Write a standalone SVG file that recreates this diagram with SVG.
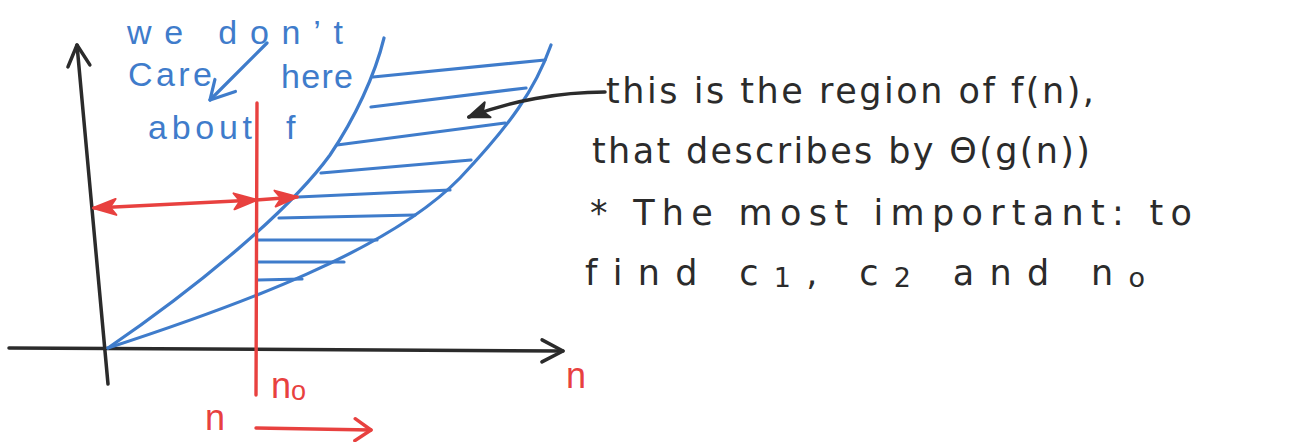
<svg xmlns="http://www.w3.org/2000/svg" width="1308" height="442" viewBox="0 0 1308 442">
<style>
.ink{fill:none;stroke-linecap:round;stroke-linejoin:round}
.blk{stroke:#2b2b2b;stroke-width:3.5}
.blu{stroke:#3f7ccb;stroke-width:3.2}
.red{stroke:#e8413f;stroke-width:3.4}
.hand{font-family:"Liberation Sans","DejaVu Sans",sans-serif;font-variant-ligatures:none}
.wide{font-family:"DejaVu Sans","Liberation Sans",sans-serif;font-variant-ligatures:none}
.tb{fill:#2b2b2b;font-size:35px}
.tu{fill:#3f7ccb;font-size:34px}
.tr{fill:#e8413f;font-size:36px}
.sub{font-size:27px}
</style>
<defs>
<marker id="vBlk" viewBox="-24 -14 28 28" refX="0" refY="0" markerWidth="28" markerHeight="28" markerUnits="userSpaceOnUse" orient="auto">
<path d="M-21,-11 L0,0 L-21,11" fill="none" stroke="#2b2b2b" stroke-width="3.5" stroke-linecap="round" stroke-linejoin="round"/>
</marker>
<marker id="vRed" viewBox="-24 -14 28 28" refX="0" refY="0" markerWidth="28" markerHeight="28" markerUnits="userSpaceOnUse" orient="auto">
<path d="M-16,-11 L0,0 L-16,11" fill="none" stroke="#e8413f" stroke-width="3.4" stroke-linecap="round" stroke-linejoin="round"/>
</marker>
<marker id="vBlu" viewBox="-30 -18 34 34" refX="0" refY="0" markerWidth="34" markerHeight="34" markerUnits="userSpaceOnUse" orient="auto">
<path d="M-18,11 L0,0 L-24,-12" fill="none" stroke="#3f7ccb" stroke-width="3.2" stroke-linecap="round" stroke-linejoin="round"/>
</marker>
<marker id="fRed" viewBox="-26 -12 30 24" refX="0" refY="0" markerWidth="30" markerHeight="24" markerUnits="userSpaceOnUse" orient="auto-start-reverse">
<path d="M1,0 L-22,-8 L-16,0 L-22,8 Z" fill="#e8413f" stroke="#e8413f" stroke-width="2" stroke-linejoin="round"/>
</marker>
<marker id="fBlk" viewBox="-26 -12 30 24" refX="0" refY="0" markerWidth="30" markerHeight="24" markerUnits="userSpaceOnUse" orient="auto">
<path d="M1,0 L-20,-8 L-15,0 L-20,8 Z" fill="#2b2b2b" stroke="#2b2b2b" stroke-width="2" stroke-linejoin="round"/>
</marker>
</defs>
<rect width="1308" height="442" fill="#ffffff"/>

<g id="axes">
<path class="ink blk" d="M108,384 L77,45" marker-end="url(#vBlk)"/>
<path class="ink blk" d="M9,348 L563,351" marker-end="url(#vBlk)"/>
</g>

<g id="region">
<path class="ink blu" d="M108,348 C200,285 290,210 330,155 C355,118 375,75 384,38"/>
<path class="ink blu" d="M108,348 C240,305 390,250 460,178 C510,125 535,90 551,45"/>
<g class="ink blu">
<line x1="373" y1="77" x2="545" y2="60"/>
<line x1="371" y1="107" x2="526" y2="88"/>
<line x1="337" y1="145" x2="505" y2="123"/>
<line x1="321" y1="173" x2="471" y2="160"/>
<line x1="298" y1="197" x2="450" y2="190"/>
<line x1="279" y1="218" x2="415" y2="215"/>
<line x1="258" y1="240" x2="377" y2="240"/>
<line x1="258" y1="262" x2="344" y2="262"/>
<line x1="258" y1="280" x2="302" y2="279"/>
</g>
</g>

<g id="n0-line">
<path class="ink red" d="M257,103 L256,395"/>
<text class="hand tr" x="271" y="398">n<tspan class="sub" dy="2">o</tspan></text>
</g>

<g id="x-label">
<text class="hand tr" x="566" y="388">n</text>
</g>

<g id="n-direction">
<text class="hand tr" x="205" y="430" font-size="32">n</text>
</g>

<g id="blue-note">
<text class="hand tu" x="127" y="44" textLength="216" lengthAdjust="spacing">we don’t</text>
<text class="hand tu" x="128" y="86" textLength="84" lengthAdjust="spacing">Care</text>
<text class="hand tu" x="281" y="88" textLength="72" lengthAdjust="spacing">here</text>
<text class="hand tu" x="148" y="139" textLength="104" lengthAdjust="spacing">about</text>
<text class="hand tu" x="286" y="139">f</text>
</g>

<g id="explanation">
<text class="wide tb" x="606" y="103" textLength="488" lengthAdjust="spacing">this is the region of f(n),</text>
<text class="wide tb" x="592" y="163" textLength="498" lengthAdjust="spacing">that describes by Θ(g(n))</text>
<text class="wide tb" x="590" y="225" textLength="602" lengthAdjust="spacing">* The most important: to</text>
<text class="wide tb" x="585" y="285" textLength="560" lengthAdjust="spacing">find  c<tspan class="sub" dy="2">1</tspan><tspan dy="-2">, c</tspan><tspan class="sub" dy="2">2</tspan><tspan dy="-2">  and  n</tspan><tspan class="sub" dy="2">o</tspan></text>
</g>

<g id="connectors">
<path class="ink red" d="M94,208 L256,200 L297,197" marker-start="url(#fRed)" marker-mid="url(#fRed)" marker-end="url(#fRed)"/>
<path class="ink red" d="M256,428 L371,430" marker-end="url(#vRed)"/>
<path class="ink blu" d="M267,43 L210,100" marker-end="url(#vBlu)"/>
<path class="ink blk" d="M605,92 C560,92 510,101 469,117" marker-end="url(#fBlk)"/>
</g>
</svg>
